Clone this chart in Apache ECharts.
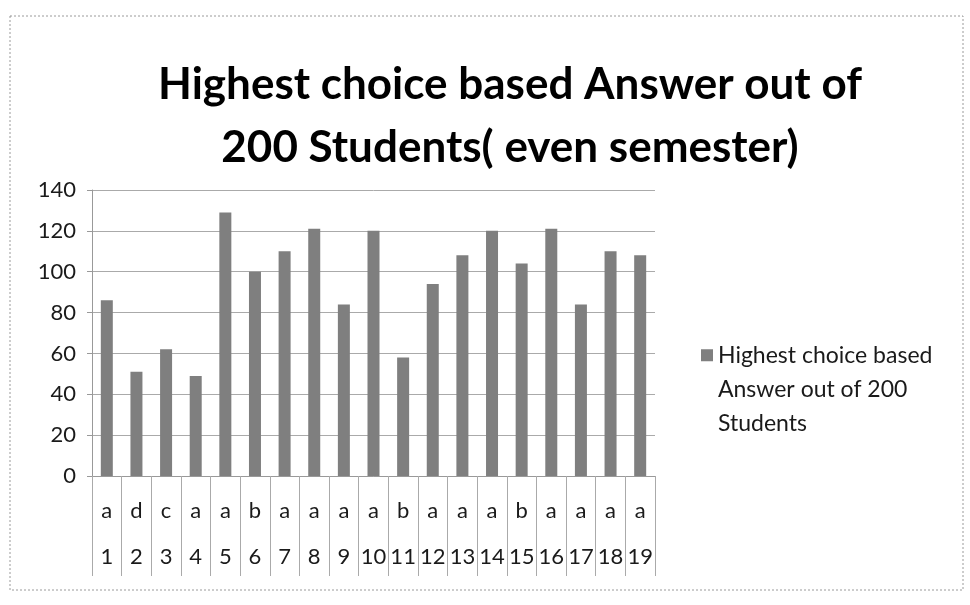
<!DOCTYPE html>
<html>
<head>
<meta charset="utf-8">
<script src="https://cdn.jsdelivr.net/npm/echarts@6/dist/echarts.min.js"></script>
<style>
  html, body { margin: 0; padding: 0; background: #fff; }
  #chart { width: 970px; height: 605px; }
</style>
</head>
<body>
<div id="chart"></div>
<script>
// question numbers and the answer chosen most often
const questions = ['1', '2', '3', '4', '5', '6', '7', '8', '9', '10', '11', '12', '13', '14', '15', '16', '17', '18', '19'];
const answers = ['a', 'd', 'c', 'a', 'a', 'b', 'a', 'a', 'a', 'a', 'b', 'a', 'a', 'a', 'b', 'a', 'a', 'a', 'a'];
// how many of the 200 students picked it
const counts = [86, 51, 62, 49, 129, 100, 110, 121, 84, 120, 58, 94, 108, 120, 104, 121, 84, 110, 108];

const seriesName = 'Highest choice based Answer out of 200 Students';
const titleText = 'Highest choice based Answer out of\n200 Students( even semester)';

const chart = echarts.init(document.getElementById('chart'));

const option = {
    backgroundColor: '#fff',
    animation: false,
    title: {
        text: titleText,
        left: 505,
        top: 48,
        textAlign: 'center',
        textStyle: {
            fontFamily: 'Lato',
            fontSize: 44,
            fontWeight: 'bold',
            color: '#000',
            lineHeight: 63
        }
    },
    legend: {
        left: 696,
        top: 334,
        orient: 'vertical',
        // square sitting at the top of a tall box so it lines up with the first text line
        icon: 'path://M0,0H10V10H0Z M0,68H10V68.01H0Z',
        itemWidth: 12,
        itemHeight: 82,
        itemGap: 6,
        textStyle: {
            fontFamily: 'Lato',
            fontSize: 23,
            color: '#1a1a1a',
            width: 250,
            overflow: 'break',
            lineHeight: 34
        },
        data: [seriesName]
    },
    grid: {
        left: 92,
        right: 315,
        top: 190,
        bottom: 129
    },
    xAxis: {
        type: 'category',
        data: questions,
        axisLine: { show: true, lineStyle: { color: '#999', width: 1 } },
        axisTick: { show: true, length: 100, lineStyle: { color: '#aaa', width: 1 } },
        axisLabel: {
            interval: 0,
            margin: 12,
            formatter: function (value, idx) {
                return '{l|' + answers[idx] + '}\n{n|' + value + '}';
            },
            rich: {
                l: { fontFamily: 'Lato', fontSize: 22, color: '#1a1a1a', lineHeight: 46, height: 46 },
                n: { fontFamily: 'Lato', fontSize: 22, color: '#1a1a1a', lineHeight: 46, height: 46 }
            }
        }
    },
    yAxis: {
        type: 'value',
        min: 0,
        max: 140,
        interval: 20,
        axisLine: { show: true, lineStyle: { color: '#999', width: 1 } },
        axisTick: { show: true, length: 5, lineStyle: { color: '#999' } },
        axisLabel: {
            margin: 16,
            fontFamily: 'Lato',
            fontSize: 22,
            color: '#1a1a1a'
        },
        splitLine: { show: true, lineStyle: { color: '#aaa', width: 1 } }
    },
    series: [
        {
            name: seriesName,
            type: 'bar',
            data: counts,
            barWidth: 12,
            itemStyle: { color: '#7f7f7f' }
        }
    ],
    graphic: [
        {
            type: 'rect',
            shape: { x: 10, y: 16, width: 953, height: 574 },
            style: { fill: null, stroke: '#9a9a9a', lineWidth: 1, lineDash: [2, 2] },
            silent: true,
            z: -1
        }
    ]
};

chart.setOption(option);
</script>
</body>
</html>
